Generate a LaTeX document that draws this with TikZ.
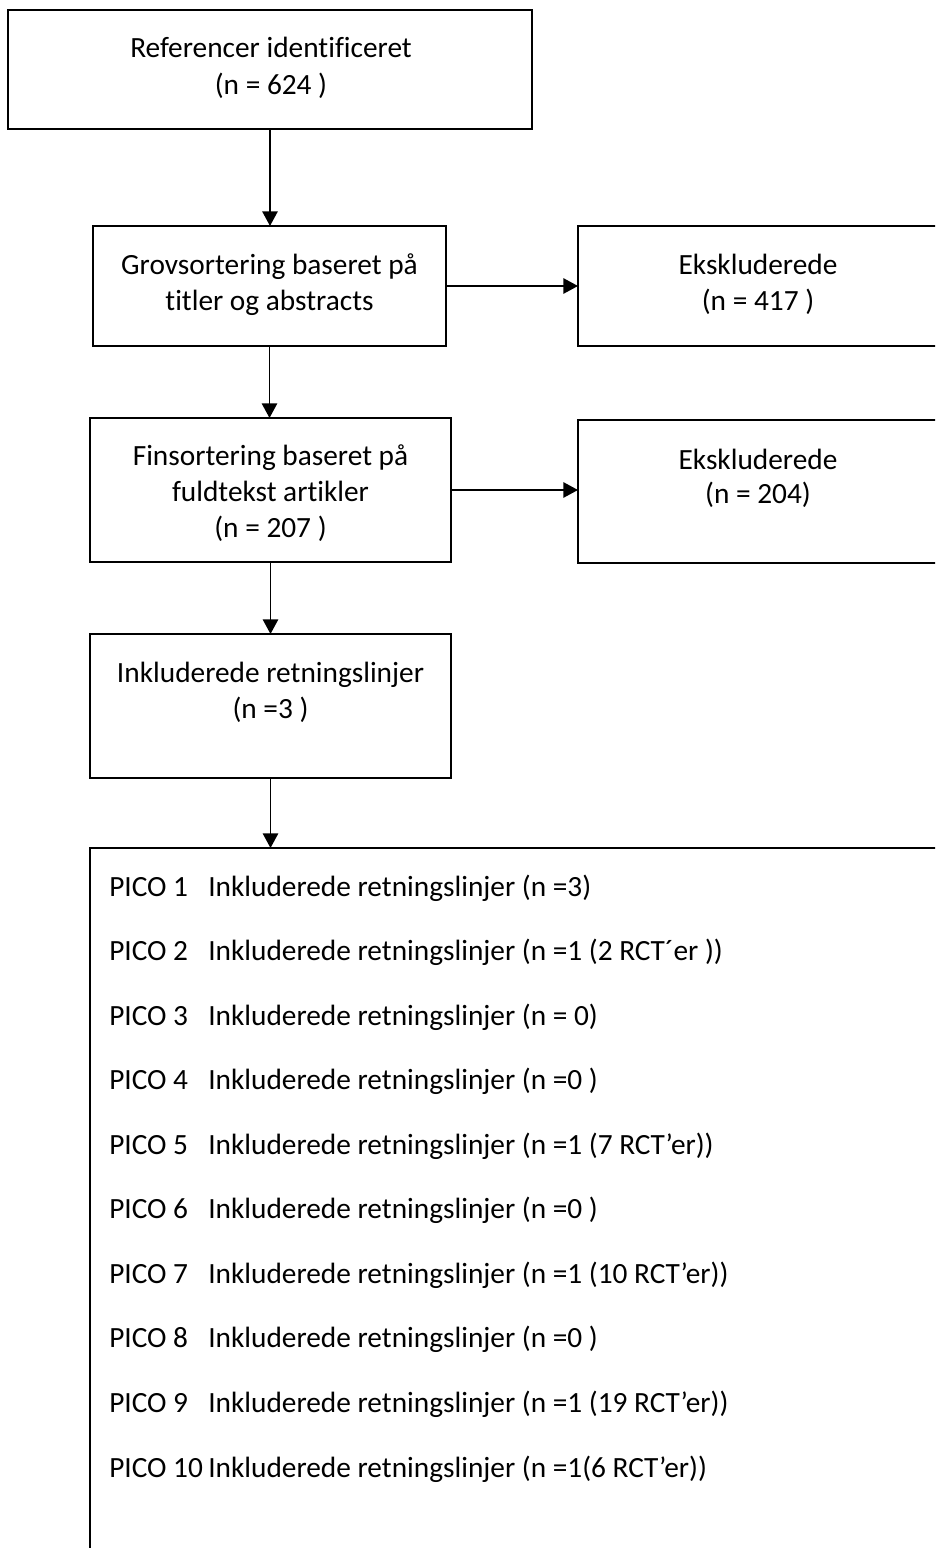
\documentclass[tikz,border=0pt]{standalone}
\usepackage{fontspec}
\setmainfont{Carlito}[Ligatures={NoCommon}]
\usetikzlibrary{arrows.meta}

\begin{document}
\begin{tikzpicture}[x=0.75pt,y=0.75pt,yscale=-1,xscale=1,
    box/.style={draw, line width=1.4pt, inner sep=0pt, outer sep=0pt},
    txt/.style={anchor=base, inner sep=0pt, font=\fontsize{22pt}{26pt}\selectfont},
    arr/.style={line width=1.4pt, -{Triangle[length=11pt,width=11.5pt]}}]
  \useasboundingbox (0,0) rectangle (935,1548);
  \clip (0,0) rectangle (935,1548);

  %Shape: Rectangle [referencer]
  \node [box, minimum width=393pt, minimum height=89.25pt] (ref) at (270,69.5) {};
  %Shape: Rectangle [grovsortering]
  \node [box, minimum width=264.75pt, minimum height=90pt] (grov) at (269.5,286) {};
  %Shape: Rectangle [ekskluderede 1]
  \node [box, minimum width=273pt, minimum height=90pt] (eks1) at (760,286) {};
  %Shape: Rectangle [finsortering]
  \node [box, minimum width=270.75pt, minimum height=108pt] (fin) at (270.5,490) {};
  %Shape: Rectangle [ekskluderede 2]
  \node [box, minimum width=273pt, minimum height=107.25pt] (eks2) at (760,491.5) {};
  %Shape: Rectangle [inkluderede]
  \node [box, minimum width=270.75pt, minimum height=108pt] (inkl) at (270.5,706) {};
  %Shape: Rectangle [pico]
  \node [box, minimum width=639pt, minimum height=534pt] (pico) at (516,1204) {};

  % Text Node
  \node [txt] (ref1) at (271,58) {Referencer identificeret};
  \node [txt] (ref2) at (271,95) {(n = 624 )};
  % Text Node
  \node [txt] (grov1) at (269.5,274) {Grovsortering baseret på};
  \node [txt] (grov2) at (269.5,310) {titler og abstracts};
  % Text Node
  \node [txt] (eks1a) at (758,275) {Ekskluderede};
  \node [txt] (eks1b) at (758,310) {(n = 417 )};
  % Text Node
  \node [txt] (fin1) at (270.5,465) {Finsortering baseret på};
  \node [txt] (fin2) at (270.5,501) {fuldtekst artikler};
  \node [txt] (fin3) at (270.5,537) {(n = 207 )};
  % Text Node
  \node [txt] (eks2a) at (758,469) {Ekskluderede};
  \node [txt] (eks2b) at (758,503) {(n = 204)};
  % Text Node
  \node [txt] (inkl1) at (270.5,682) {Inkluderede retningslinjer};
  \node [txt] (inkl2) at (270.5,718) {(n =3 )};

  % PICO lines
  \foreach \num/\nv [count=\k] in {1/{(n =3)}, 2/{(n =1 (2 RCT´er ))}, 3/{(n = 0)},
      4/{(n =0 )}, 5/{(n =1 (7 RCT’er))}, 6/{(n =0 )}, 7/{(n =1 (10 RCT’er))},
      8/{(n =0 )}, 9/{(n =1 (19 RCT’er))}, 10/{(n =1(6 RCT’er))}} {
    \node [txt, anchor=base west] (p\k) at (109,{896+(\k-1)*64.56}) {PICO \num};
    \node [txt, anchor=base west] (t\k) at (208,{896+(\k-1)*64.56}) {Inkluderede retningslinjer \nv};
  }

  % Arrows
  \draw [arr] (ref.south) -- (ref.south |- grov.north);
  \draw [arr] (grov.east) -- (eks1.west);
  \draw [arr] (grov.south) -- (grov.south |- fin.north);
  \draw [arr] (fin.east) -- (fin.east -| eks2.west);
  \draw [arr] (fin.south) -- (inkl.north);
  \draw [arr] (inkl.south) -- (inkl.south |- pico.north);
\end{tikzpicture}
\end{document}
